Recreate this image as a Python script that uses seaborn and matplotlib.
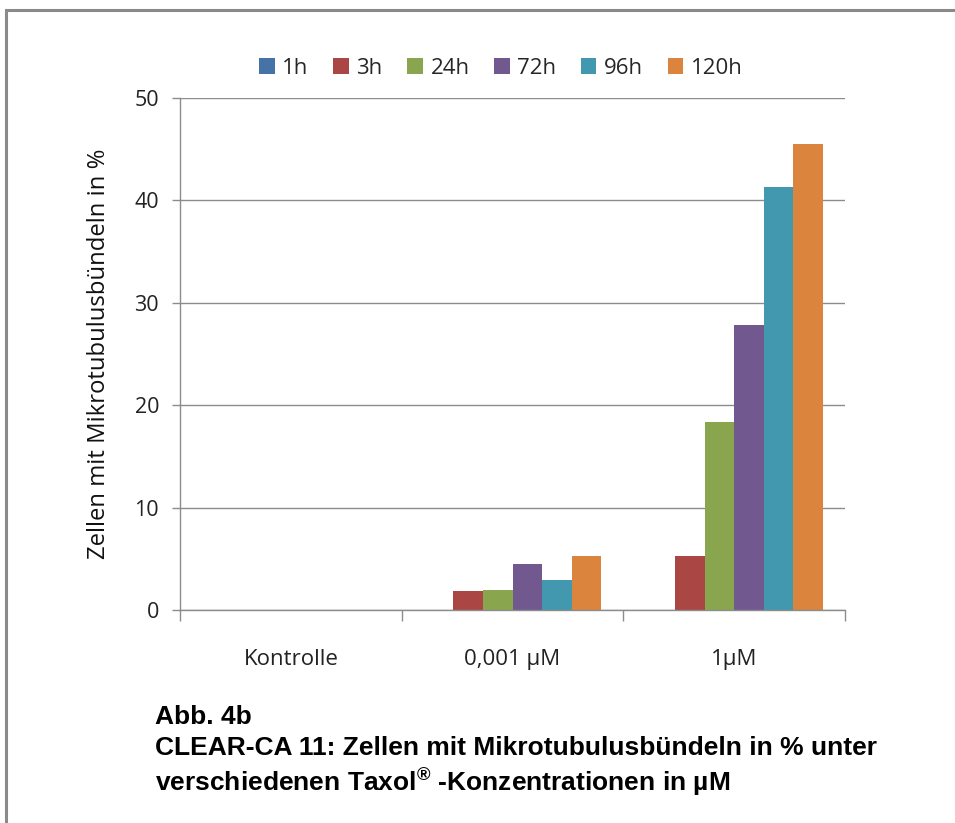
import matplotlib
matplotlib.use("Agg")
import matplotlib.pyplot as plt
from matplotlib.patches import Rectangle
import seaborn as sns
import pandas as pd

categories = ["Kontrolle", "0,001 µM", "1µM"]
series = ["1h", "3h", "24h", "72h", "96h", "120h"]
values_1h = [0.0, 0.0, 0.0]
values_3h = [0.0, 1.9, 5.3]
values_24h = [0.0, 2.0, 18.4]
values_72h = [0.0, 4.5, 27.8]
values_96h = [0.0, 2.9, 41.3]
values_120h = [0.0, 5.3, 45.5]
colors = ["#4572A7", "#AA4643", "#89A54E", "#71588F", "#4198AF", "#DB843D"]
y_ticks = [0, 10, 20, 30, 40, 50]

all_vals = [values_1h, values_3h, values_24h, values_72h, values_96h, values_120h]
rows = []
for s, vals in zip(series, all_vals):
    for c, v in zip(categories, vals):
        rows.append({"Konzentration": c, "Zeit": s, "Wert": v})
df = pd.DataFrame(rows)

sns.set_style("white")
plt.rcParams["font.family"] = ["Open Sans", "DejaVu Sans"]
plt.rcParams["mathtext.fontset"] = "custom"
plt.rcParams["mathtext.rm"] = "Liberation Sans:bold"
plt.rcParams["mathtext.bf"] = "Liberation Sans:bold"

fig = plt.figure(figsize=(9.55, 8.23), dpi=100)
ax = fig.add_axes([180/955, 1-610/823, (845-180)/955, (610-98)/823])

sns.barplot(data=df, x="Konzentration", y="Wert", hue="Zeit", order=categories,
            hue_order=series, palette=colors, width=0.8, saturation=1,
            ax=ax, legend=True, linewidth=0)

ax.set_xlim(-0.5, 2.5)
ax.set_ylim(0, 50)
ax.set_yticks(y_ticks)
ax.set_yticklabels([str(t) for t in y_ticks], fontsize=15.5, color="#222222")
ax.yaxis.grid(True, color="#8C8C8C", linewidth=1.0)
ax.set_axisbelow(True)
ax.tick_params(axis="y", which="major", length=6, width=1, color="#8C8C8C", left=True, pad=9)

ax.set_xticks([0, 1, 2])
ax.set_xticklabels(categories, fontsize=16, color="#222222")
ax.tick_params(axis="x", which="major", length=0, pad=28)
ax.set_xticks([-0.5, 0.5, 1.5, 2.5], minor=True)
ax.tick_params(axis="x", which="minor", length=8, width=1, color="#8C8C8C", bottom=True)

for side in ["top", "right"]:
    ax.spines[side].set_visible(False)
for side in ["left", "bottom"]:
    ax.spines[side].set_color("#8C8C8C")
    ax.spines[side].set_linewidth(1.0)

ax.set_xlabel("")
ax.set_ylabel("Zellen mit Mikrotubulusbündeln in %", fontsize=17.2, color="#111111", labelpad=17)

leg = ax.legend(loc="center", bbox_to_anchor=(501/955, 1-68/823), bbox_transform=fig.transFigure,
                ncol=6, frameon=False, fontsize=16, handlelength=0.7, handleheight=0.7,
                handletextpad=0.35, columnspacing=1.1)

fig.patches.append(Rectangle((6/955, -0.01), 1.0, 1 - 10/823 + 0.01, transform=fig.transFigure,
                             fill=False, edgecolor="#8A8A8A", linewidth=2.2))

tkw = dict(fontsize=19, fontweight="bold", family=["Liberation Sans", "DejaVu Sans"], color="black",
           va="top", ha="left")
fig.text(155/955, 1-705/823, "Abb. 4b", **tkw)
fig.text(155/955, 1-736/823, "CLEAR-CA 11: Zellen mit Mikrotubulusbündeln in % unter", **tkw)
fig.text(155/955, 1-765/823, r"verschiedenen Taxol$^{®}$ -Konzentrationen in µM", **tkw)

fig.savefig("out.png", dpi=100)
